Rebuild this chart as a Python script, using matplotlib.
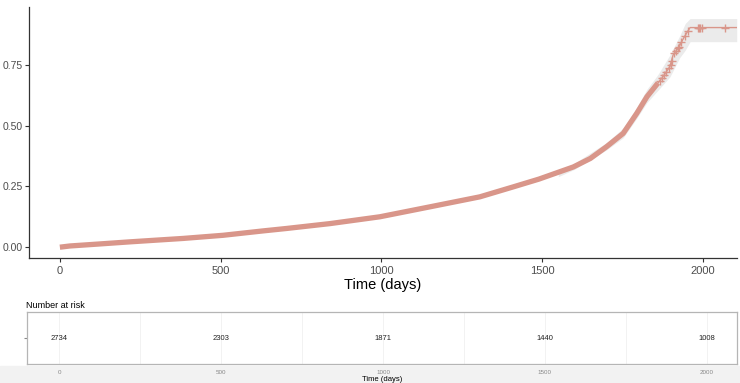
import matplotlib
matplotlib.use("Agg")
import matplotlib.pyplot as plt
from matplotlib.patches import Rectangle

plt.rcParams['font.family'] = ['Liberation Sans', 'DejaVu Sans']

# cumulative incidence (dense part, many censor marks)
time = [0, 31, 120, 218, 300, 383, 508, 632, 705, 840, 995, 1151, 1306, 1410,
        1490, 1597, 1650, 1700, 1752, 1794, 1826, 1860]
cuminc = [0, 0.005, 0.013, 0.022, 0.029, 0.036, 0.049, 0.067, 0.077, 0.097,
          0.125, 0.166, 0.207, 0.248, 0.28, 0.33, 0.365, 0.413, 0.468, 0.55,
          0.619, 0.675]

# sparse tail
tail_time = [1860, 1875, 1888, 1897, 1907, 1918, 1928, 1940, 1949, 1960, 2105]
tail_inc = [0.675, 0.70, 0.725, 0.742, 0.79, 0.81, 0.83, 0.86, 0.88, 0.903, 0.903]
cens_time = [1866, 1872, 1880, 1886, 1893, 1900, 1904, 1911, 1915, 1922, 1926,
             1933, 1944, 1952, 1984, 1988, 1992, 1996, 2068]
cens_inc = [0.685, 0.695, 0.71, 0.722, 0.735, 0.75, 0.765, 0.80, 0.805, 0.82,
            0.825, 0.845, 0.87, 0.89, 0.903, 0.903, 0.903, 0.903, 0.903]

# confidence band
band_time = [1550, 1600, 1700, 1752, 1794, 1826, 1860, 1897, 1928, 1945, 1960, 2105]
band_low = [0.29, 0.32, 0.40, 0.45, 0.53, 0.595, 0.645, 0.70, 0.78, 0.81, 0.845, 0.845]
band_high = [0.31, 0.345, 0.43, 0.49, 0.575, 0.65, 0.71, 0.79, 0.87, 0.92, 0.94, 0.94]

risk_time = [0, 500, 1000, 1500, 2000]
risk_n = [2734, 2303, 1871, 1440, 1008]

col = '#d9968a'

fig = plt.figure(figsize=(7.4, 3.83), dpi=100)
fig.add_artist(Rectangle((0, 0), 1, 0.045, transform=fig.transFigure,
                         color='#f2f2f2', zorder=-1))

ax = fig.add_axes([0.0392, 0.326, 0.9568, 0.656])
ax.fill_between(band_time, band_low, band_high, color='#ebebeb', lw=0, zorder=1)
ax.plot(time, cuminc, color=col, lw=3.8, solid_capstyle='butt', zorder=2)
ax.plot(tail_time, tail_inc, color=col, lw=1.0, zorder=3)
ax.plot(cens_time, cens_inc, ls='none', marker='+', ms=6, mew=1.0, color=col, zorder=3)

ax.set_xlim(-96, 2106)
ax.set_ylim(-0.045, 0.988)
ax.set_xticks([0, 500, 1000, 1500, 2000])
ax.set_yticks([0, 0.25, 0.5, 0.75])
ax.set_yticklabels(['0.00', '0.25', '0.50', '0.75'])
for s in ['top', 'right']:
    ax.spines[s].set_visible(False)
for s in ['left', 'bottom']:
    ax.spines[s].set_color('#333333')
    ax.spines[s].set_linewidth(0.9)
ax.tick_params(labelsize=7.5, colors='#333333', labelcolor='#4d4d4d', length=3, pad=1.5)
ax.tick_params(axis='x', labelsize=8, pad=3)
ax.set_xlabel('Time (days)', fontsize=10.5, labelpad=1)

# risk table
rt = fig.add_axes([0.0365, 0.0496, 0.9595, 0.1354])
rt.set_xlim(-99, 2093)
rt.set_ylim(0, 1)
for t, n in zip(risk_time, risk_n):
    rt.text(t, 0.5, str(n), ha='center', va='center', fontsize=5.5, color='#222222')
rt.set_xticks([0, 500, 1000, 1500, 2000])
rt.set_xticks([250, 750, 1250, 1750], minor=True)
rt.grid(True, which='both', axis='x', color='#f0f0f0', lw=0.6)
rt.set_yticks([0.5])
rt.set_yticklabels([''])
rt.tick_params(axis='x', which='both', length=0, labelsize=4.5, labelcolor='#888888', pad=4)
rt.tick_params(axis='y', length=2, color='#888888')
for s in rt.spines.values():
    s.set_color('#b5b5b5')
    s.set_linewidth(0.9)
rt.set_xlabel('Time (days)', fontsize=5.5, labelpad=1)
rt.set_title('Number at risk', loc='left', fontsize=6.5, pad=3, x=-0.002)

fig.savefig('out.png', dpi=100)
